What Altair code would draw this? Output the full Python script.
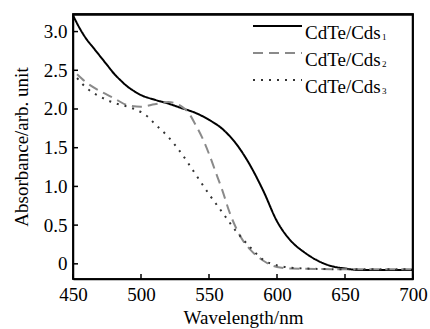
import altair as alt
import pandas as pd

# ---- data ----
wl_1 = [450, 455, 460, 465, 470, 475, 480, 485, 490, 495, 500, 510, 520, 530, 540, 550,
        560, 570, 580, 590, 600, 610, 620, 630, 640, 650, 660, 680, 700]
ab_1 = [3.21, 3.04, 2.90, 2.79, 2.68, 2.57, 2.46, 2.37, 2.29, 2.23, 2.18, 2.12, 2.07, 2.01,
        1.95, 1.86, 1.74, 1.55, 1.28, 0.94, 0.55, 0.30, 0.15, 0.04, -0.03, -0.06, -0.08, -0.08, -0.08]

wl_2 = [453, 460, 470, 480, 490, 500, 510, 520, 530, 535, 540, 545, 550, 555, 560, 565,
        570, 575, 580, 590, 600, 610, 650, 700]
ab_2 = [2.45, 2.34, 2.23, 2.14, 2.05, 2.03, 2.06, 2.09, 2.03, 1.95, 1.80, 1.63, 1.42, 1.18,
        0.94, 0.67, 0.46, 0.30, 0.19, 0.04, -0.04, -0.06, -0.07, -0.07]

wl_3 = [453, 460, 470, 480, 490, 500, 505, 510, 520, 530, 540, 550, 560, 570, 580, 590,
        600, 610, 620, 650, 700]
ab_3 = [2.40, 2.27, 2.16, 2.08, 2.03, 1.96, 1.90, 1.81, 1.64, 1.42, 1.16, 0.90, 0.66, 0.42,
        0.22, 0.05, -0.02, -0.05, -0.06, -0.07, -0.07]

series = ["CdTe/Cds1", "CdTe/Cds2", "CdTe/Cds3"]
legend_main = ["CdTe/Cds", "CdTe/Cds", "CdTe/Cds"]
legend_sub = ["1", "2", "3"]

x_ticks = [450, 500, 550, 600, 650, 700]
y_ticks = [0, 0.5, 1.0, 1.5, 2.0, 2.5, 3.0]

colors = ["#000000", "#8a8a8a", "#333333"]
dashes = [[1, 0], [10, 6], [2, 6]]

xt = pd.DataFrame({"v": x_ticks})
yt = pd.DataFrame({"v": y_ticks})
frame_df = pd.DataFrame({"k": [0]})

W, H = 340, 265
FONT = "Liberation Serif"

xscale = alt.Scale(domain=[450, 700], nice=False, zero=False)
yscale = alt.Scale(domain=[-0.196, 3.227], nice=False, zero=False)

axis_style = dict(labelFont=FONT, labelFontSize=19, labelColor="black",
                  titleFont=FONT, titleFontSize=19, titleColor="black",
                  titleFontWeight="normal", domainColor="black", domainWidth=1.5,
                  tickSize=0, grid=False, labelFlush=False)

layers = []
for i, (name, xs, ys) in enumerate(zip(series, [wl_1, wl_2, wl_3], [ab_1, ab_2, ab_3])):
    d = pd.DataFrame({"wl": xs, "ab": ys})
    if i == 0:
        xenc = alt.X("wl:Q", scale=xscale,
                     axis=alt.Axis(values=x_ticks, labelPadding=6,
                                   title="Wavelength/nm", titlePadding=4, **axis_style))
        yenc = alt.Y("ab:Q", scale=yscale,
                     axis=alt.Axis(values=y_ticks, labelPadding=6,
                                   labelExpr="datum.value == 0 ? '0' : format(datum.value, '.1f')",
                                   title="Absorbance/arb. unit", titlePadding=12, **axis_style))
    else:
        xenc = alt.X("wl:Q", scale=xscale)
        yenc = alt.Y("ab:Q", scale=yscale)
    layers.append(
        alt.Chart(d).mark_line(strokeWidth=2, interpolate="monotone", color=colors[i],
                               strokeDash=dashes[i]).encode(x=xenc, y=yenc)
    )

frame_rect = alt.Chart(frame_df).mark_rect(fillOpacity=0, stroke="#000000",
                                           strokeWidth=1.5, strokeOpacity=1).encode(
    x=alt.value(0), x2=alt.value(W), y=alt.value(0), y2=alt.value(H),
)
frame_top = alt.Chart(frame_df).mark_rule(stroke="#000000", strokeWidth=1.5, opacity=1).encode(
    x=alt.value(0), x2=alt.value(W), y=alt.value(1),
)
frame_right = alt.Chart(frame_df).mark_rule(stroke="#000000", strokeWidth=1.5, opacity=1).encode(
    x=alt.value(W - 0.5), y=alt.value(0), y2=alt.value(H),
)
xticks = alt.Chart(xt).mark_rule(stroke="#000000", strokeWidth=1.5, opacity=1).encode(
    x=alt.X("v:Q", scale=xscale),
    y=alt.value(H), y2=alt.value(H - 5),
)
yticks = alt.Chart(yt).mark_rule(stroke="#000000", strokeWidth=1.5, opacity=1).encode(
    y=alt.Y("v:Q", scale=yscale),
    x=alt.value(0), x2=alt.value(5),
)
layers += [frame_rect, frame_top, frame_right, xticks, yticks]

for i in range(len(series)):
    row = pd.DataFrame({"main": [legend_main[i]], "sub": [legend_sub[i]]})
    base = alt.Chart(row)
    ly = 12 + 27 * i
    layers.append(
        base.mark_rule(strokeWidth=2, color=colors[i], strokeDash=dashes[i]).encode(
            x=alt.value(180), x2=alt.value(229), y=alt.value(ly),
        )
    )
    layers.append(
        base.mark_text(align="left", baseline="alphabetic", font=FONT,
                       fontSize=19, color="black").encode(
            x=alt.value(232), y=alt.value(ly + 12.5), text="main:N",
        )
    )
    layers.append(
        base.mark_text(align="left", baseline="alphabetic", font=FONT,
                       fontSize=9, color="black").encode(
            x=alt.value(309), y=alt.value(ly + 13.5), text="sub:N",
        )
    )

chart = alt.layer(*layers).properties(
    width=W, height=H,
    autosize=alt.AutoSizeParams(type="none"),
    padding={"left": 73, "top": 14, "right": 17, "bottom": 50},
).configure_view(
    stroke="#000000", strokeWidth=1.5
)

chart.save("out.html", embed_options={"renderer": "svg", "actions": False})
